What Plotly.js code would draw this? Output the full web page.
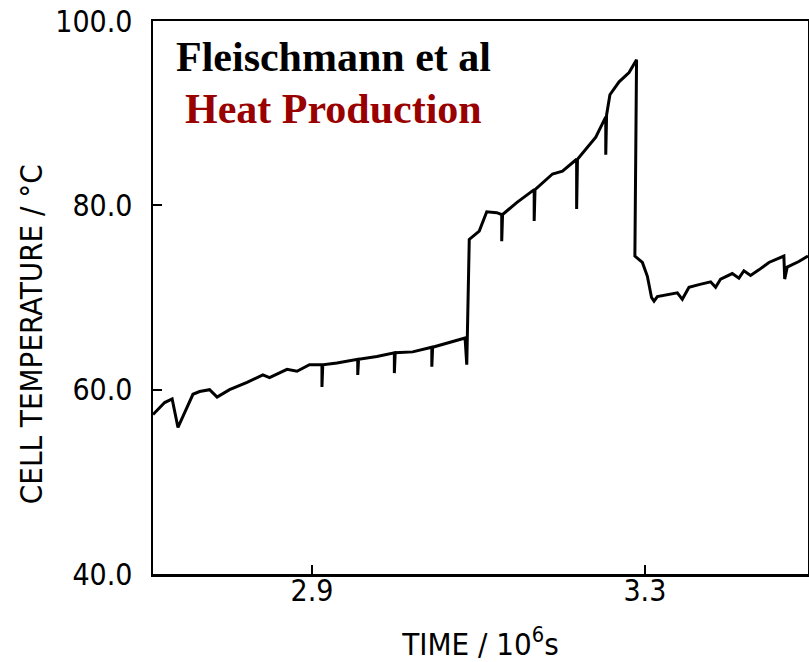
<!DOCTYPE html>
<html>
<head>
<meta charset="utf-8">
<script src="https://cdn.plot.ly/plotly-3.0.1.min.js"></script>
<style>html,body{margin:0;padding:0;background:#fff;}#chart{width:809px;height:662px;}</style>
</head>
<body>
<div id="chart"></div>
<script>
// Time in units of 10^6 s (vertical "spikes" repeat the same time)
const timeValues = [2.709, 2.723, 2.732, 2.739, 2.745, 2.757, 2.765, 2.777, 2.786, 2.801,
  2.822, 2.841, 2.849, 2.870, 2.882, 2.897, 2.912, 2.912, 2.913, 2.930,
  2.955, 2.955, 2.956, 2.978, 2.999, 2.999, 3.000, 3.021, 3.044, 3.044,
  3.045, 3.065, 3.084, 3.086, 3.089, 3.101, 3.110, 3.122, 3.128, 3.128,
  3.129, 3.146, 3.167, 3.167, 3.168, 3.189, 3.201, 3.218, 3.218, 3.219,
  3.241, 3.253, 3.253, 3.254, 3.258, 3.269, 3.281, 3.290, 3.288, 3.297,
  3.303, 3.308, 3.311, 3.315, 3.325, 3.339, 3.345, 3.353, 3.365, 3.379,
  3.385, 3.391, 3.405, 3.413, 3.419, 3.427, 3.437, 3.449, 3.467, 3.468,
  3.471, 3.485, 3.496];
// Cell temperature in °C
const cellTemperature = [57.3, 58.6, 59.0, 55.9, 57.1, 59.5, 59.8, 60.0, 59.2, 60.0,
  60.8, 61.6, 61.3, 62.2, 62.0, 62.7, 62.7, 60.3, 62.7, 62.9,
  63.3, 61.6, 63.3, 63.6, 64.0, 61.8, 64.0, 64.1, 64.6, 62.5,
  64.6, 65.1, 65.6, 62.7, 76.3, 77.2, 79.3, 79.2, 79.0, 76.1,
  79.0, 80.3, 81.7, 78.3, 81.7, 83.4, 83.7, 85.0, 79.6, 85.0,
  87.4, 89.6, 85.5, 89.8, 92.0, 93.4, 94.4, 95.8, 74.5, 73.8,
  72.3, 70.0, 69.6, 70.1, 70.3, 70.5, 69.8, 71.1, 71.4, 71.7,
  71.1, 72.0, 72.6, 72.1, 72.9, 72.4, 73.0, 73.8, 74.5, 72.0,
  73.3, 73.9, 74.5];

const xTickVals = [2.9, 3.3];
const yTickVals = [40, 60, 80, 100];
const titleLine1 = "Fleischmann et al";
const titleLine2 = "Heat Production";
const xTitle = "TIME / 10<sup>6</sup>s";
const yTitle = "CELL TEMPERATURE / °C";

const fam = "DejaVu Sans Condensed, DejaVu Sans, sans-serif";
const axisFont = {family: fam, size: 30, color: "#000"};

const trace = {
  x: timeValues,
  y: cellTemperature,
  type: "scatter",
  mode: "lines",
  line: {color: "#000", width: 3},
  hoverinfo: "skip"
};

const layout = {
  width: 809,
  height: 662,
  margin: {l: 153, r: 1, t: 21, b: 88},
  paper_bgcolor: "#fff",
  plot_bgcolor: "#fff",
  showlegend: false,
  xaxis: {
    range: [2.709, 3.496],
    tickvals: xTickVals,
    tickformat: ".1f",
    ticks: "inside",
    ticklen: 9,
    tickwidth: 2,
    tickcolor: "#000",
    showline: true,
    linecolor: "#000",
    linewidth: 2.5,
    mirror: true,
    showgrid: false,
    zeroline: false,
    tickfont: axisFont,
    ticklabelstandoff: -12,
    title: {text: xTitle, font: {family: fam, size: 31, color: "#000"}, standoff: 30}
  },
  yaxis: {
    range: [40, 100],
    tickvals: yTickVals,
    tickformat: ".1f",
    ticks: "inside",
    ticklen: 9,
    tickwidth: 2,
    tickcolor: "#000",
    showline: true,
    linecolor: "#000",
    linewidth: 2.5,
    mirror: true,
    showgrid: false,
    zeroline: false,
    tickfont: axisFont,
    ticklabelstandoff: 12
  },
  annotations: [
    {text: yTitle, xref: "paper", yref: "paper", x: -0.186, y: 0.434,
     xanchor: "center", yanchor: "middle", textangle: -90, showarrow: false,
     font: {family: fam, size: 31, color: "#000"}},
    {text: "<b>" + titleLine1 + "</b>", xref: "paper", yref: "paper", x: 0.2763, y: 0.935,
     xanchor: "center", yanchor: "middle", showarrow: false,
     font: {family: "Liberation Serif, Times New Roman, serif", size: 42, color: "#000"}},
    {text: "<b>" + titleLine2 + "</b>", xref: "paper", yref: "paper", x: 0.2763, y: 0.841,
     xanchor: "center", yanchor: "middle", showarrow: false,
     font: {family: "Liberation Serif, Times New Roman, serif", size: 42, color: "#990000"}}
  ]
};

Plotly.newPlot("chart", [trace], layout, {staticPlot: true, displayModeBar: false});
</script>
</body>
</html>
